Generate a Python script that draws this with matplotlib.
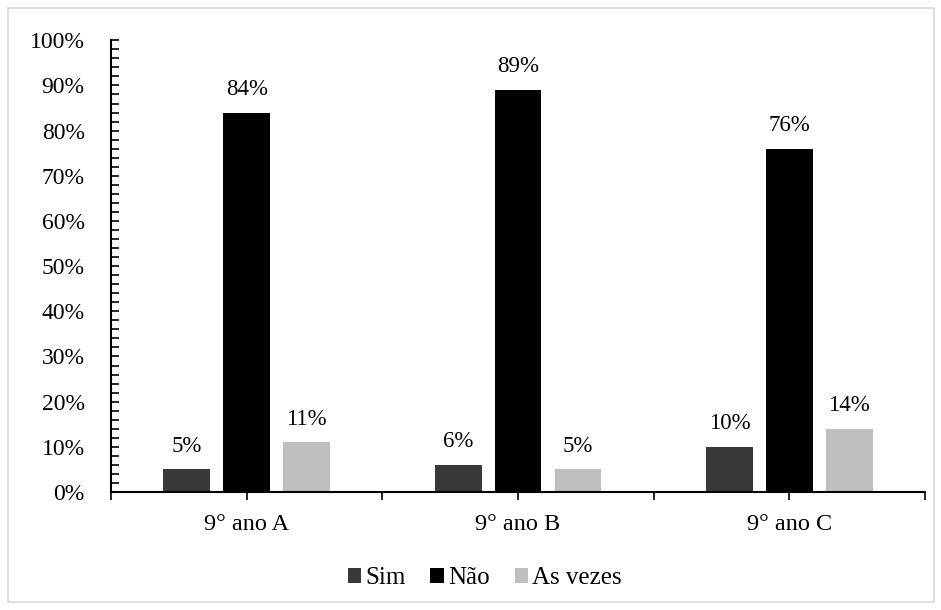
import matplotlib.pyplot as plt
import numpy as np
from matplotlib.patches import Rectangle
from matplotlib.ticker import MultipleLocator, PercentFormatter

plt.rcParams['font.family'] = ['Liberation Serif', 'DejaVu Serif']

turmas = ['9° ano A', '9° ano B', '9° ano C']
series = ['Sim', 'Não', 'As vezes']
sim = [5, 6, 10]
nao = [84, 89, 76]
as_vezes = [11, 5, 14]
values = [sim, nao, as_vezes]
colors = ['#3b3838', '#000000', '#bfbfbf']

fig = plt.figure(figsize=(9.41, 6.1), dpi=100)
ax = fig.add_axes([0.118, 0.1934, 0.865, 0.7406])

x = np.arange(len(turmas))
width = 0.173
step = 0.221
for ii in range(len(series)):
    pos = x + (ii - 1) * step
    bars = ax.bar(pos, values[ii], width, color=colors[ii], label=series[ii])
    for b, v in zip(bars, values[ii]):
        ax.annotate('%d%%' % v, (b.get_x() + b.get_width() / 2, v),
                    xytext=(0, 9), textcoords='offset points',
                    ha='center', va='bottom', fontsize=16.5)

ax.set_xlim(-0.5, 2.5)
ax.set_ylim(0, 100)
ax.yaxis.set_major_locator(MultipleLocator(10))
ax.yaxis.set_minor_locator(MultipleLocator(2))
ax.yaxis.set_major_formatter(PercentFormatter(decimals=0))
ax.set_xticks(x)
ax.set_xticklabels(turmas)
ax.set_xticks(np.arange(-0.5, 3, 1), minor=True)

ax.tick_params(axis='y', which='both', direction='in', length=6, width=1.2, pad=19, labelsize=17)
ax.tick_params(axis='x', which='both', direction='out', length=6, width=1.2, pad=10, labelsize=17.5)

for s in ['top', 'right']:
    ax.spines[s].set_visible(False)
for s in ['left', 'bottom']:
    ax.spines[s].set_linewidth(1.5)

fig.legend(loc='center', bbox_to_anchor=(0.515, 0.052), ncol=3, frameon=False,
           fontsize=18, handlelength=0.55, handleheight=0.55, handletextpad=0.15,
           columnspacing=1.0)

fig.patches.append(Rectangle((0.009, 0.013), 0.984, 0.974, transform=fig.transFigure,
                             fill=False, edgecolor='#d9d9d9', linewidth=1.2))

fig.savefig('out.png', dpi=100)
